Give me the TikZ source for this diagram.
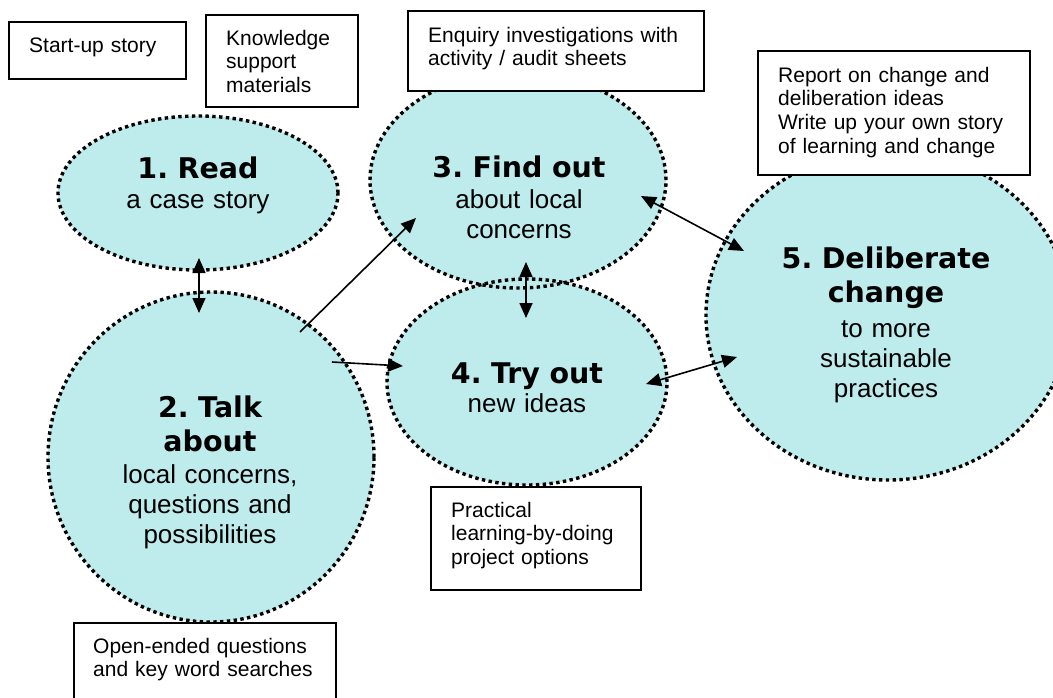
\documentclass[tikz,border=0pt]{standalone}
\usepackage{fontspec}
\setmainfont{Liberation Sans}
\newfontfamily\titlefont{DejaVu Sans}
\usetikzlibrary{arrows.meta,shapes.geometric,calc}
\definecolor{bubblecyan}{RGB}{190,236,236}
\frenchspacing
\begin{document}
\begin{tikzpicture}[x=1pt,y=-1pt,
  bubble/.style={ellipse, fill=bubblecyan, draw=none, inner sep=0pt},
  dotline/.style={line width=3.4pt, dash pattern=on 3.4pt off 3.4pt, black},
  box/.style={rectangle, draw=black, line width=1.5pt, fill=white, inner sep=0pt, anchor=north west},
  boxtext/.style={font=\fontsize{21}{23.7}\selectfont, text width=#1, align=left, inner sep=0pt, anchor=base west},
  titletext/.style={font=\titlefont\bfseries\fontsize{28.5}{34.5}\selectfont, text width=320pt, align=center, inner sep=0pt, anchor=base},
  bodytext/.style={font=\fontsize{26}{30}\selectfont, text width=280pt, align=center, inner sep=0pt, anchor=base},
  arrboth/.style={line width=1.6pt, {Triangle[length=15pt,width=13pt]}-{Triangle[length=15pt,width=13pt]}},
  arrone/.style={line width=1.6pt, -{Triangle[length=15pt,width=13pt]}}
]
\useasboundingbox (0,0) rectangle (1053,697);

% bubble fills
\node[bubble, minimum width=280pt, minimum height=154pt] (e1) at (198,193) {};
\node[bubble, minimum width=326pt, minimum height=330pt] (e2) at (211,457) {};
\node[bubble, minimum width=296pt, minimum height=216pt] (e3) at (518,180) {};
\node[bubble, minimum width=280pt, minimum height=206pt] (e4) at (527,382) {};
\node[bubble, minimum width=364pt, minimum height=330pt] (e5) at (888,315) {};

% dotted borders
\draw[dotline] (e1.center) ellipse [x radius=140pt, y radius=77pt];
\draw[dotline] (e2.center) ellipse [x radius=163pt, y radius=165pt];
\draw[dotline] (e3.center) ellipse [x radius=148pt, y radius=108pt];
\draw[dotline] (e4.center) ellipse [x radius=140pt, y radius=103pt];
\draw[dotline] (e5.center) ellipse [x radius=182pt, y radius=165pt];

% connectors
\draw[arrboth] ($(e1.center)+(1,65)$) -- ($(e2.center)+(-12,-144)$);
\draw[arrone] ($(e2.center)+(89,-125)$) -- ($(e3.center)+(-102,38)$);
\draw[arrone] ($(e2.center)+(121,-95)$) -- ($(e4.center)+(-124,-16)$);
\draw[arrboth] ($(e3.center)+(8,82)$) -- ($(e4.center)+(-1,-64)$);
\draw[arrboth] ($(e3.center)+(123,16)$) -- ($(e5.center)+(-144,-64)$);
\draw[arrboth] ($(e4.center)+(119,2)$) -- ($(e5.center)+(-151,42)$);

% bubble texts
\node[titletext] (t1) at (198,178) {1. Read};
\node[bodytext] (s1) at (198,208) {a case story};
\node[titletext] (t2) at (210,417) {2. Talk\\about};
\node[bodytext] (s2) at (210,483) {local concerns,\\questions and\\possibilities};
\node[titletext] (t3) at (519,177) {3. Find out};
\node[bodytext] (s3) at (519,208) {about local\\concerns};
\node[titletext] (t4) at (527,383) {4. Try out};
\node[bodytext] (s4) at (527,412) {new ideas};
\node[titletext] (t5) at (886,268) {5. Deliberate\\change};
\node[bodytext] (s5) at (886,337) {to more\\sustainable\\practices};

% boxes
\node[box, minimum width=177pt, minimum height=57pt] (b1) at (8,21) {};
\node[box, minimum width=152pt, minimum height=92pt] (b2) at (205,14) {};
\node[box, minimum width=296pt, minimum height=80pt] (b3) at (407,10) {};
\node[box, minimum width=272pt, minimum height=124pt] (b4) at (757,50) {};
\node[box, minimum width=210pt, minimum height=103pt] (b5) at (430,486) {};
\node[box, minimum width=262pt, minimum height=100pt] (b6) at (73,622) {};

\node[boxtext=150pt] (x1) at ($(b1.north west)+(21,31)$) {Start-up story};
\node[boxtext=128pt] (x2) at ($(b2.north west)+(21,31)$) {Knowledge\\support\\materials};
\node[boxtext=270pt] (x3) at ($(b3.north west)+(21,32)$) {Enquiry investigations with\\activity / audit sheets};
\node[boxtext=250pt] (x4) at ($(b4.north west)+(21,32)$) {Report on change and\\deliberation ideas\\Write up your own story\\of learning and change};
\node[boxtext=185pt] (x5) at ($(b5.north west)+(21,31)$) {Practical\\learning-by-doing\\project options};
\node[boxtext=235pt] (x6) at ($(b6.north west)+(20,31)$) {Open-ended questions\\and key word searches};
\end{tikzpicture}
\end{document}
